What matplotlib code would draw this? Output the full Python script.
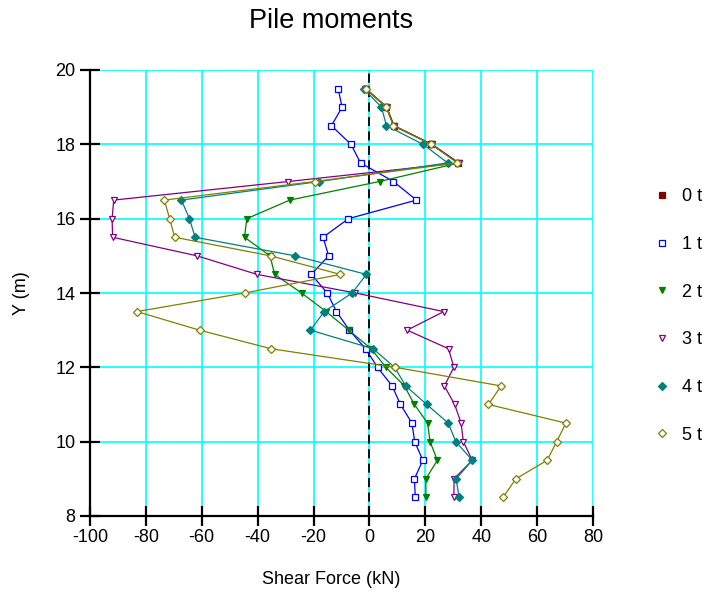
import matplotlib.pyplot as plt
from matplotlib.lines import Line2D

plt.rcParams["font.family"] = ["Liberation Sans", "DejaVu Sans"]

# depth along the pile (m)
depth = [19.5, 19.0, 18.5, 18.0, 17.5, 17.0, 16.5, 16.0, 15.5, 15.0, 14.5, 14.0,
         13.5, 13.0, 12.5, 12.0, 11.5, 11.0, 10.5, 10.0, 9.5, 9.0, 8.5]

# shear force (kN) per stage
shear_0t = [-1.4, 6.1, 8.7, 22.2, 31.7]
shear_1t = [-11.2, -9.8, -13.6, -6.6, -3.2, 8.6, 16.8, -7.5, -16.6, -14.6, -20.8, -15.1,
            -11.8, -7.2, -1.4, 2.9, 8.1, 11.1, 15.2, 16.2, 19.1, 16.1, 16.4]
shear_2t = [-1.3, 6.2, 8.8, 22.3, 32.0, 3.6, -28.5, -43.9, -44.7, -35.6, -33.9, -24.3,
            -15.5, -7.4, 0.6, 5.9, 12.5, 16.1, 20.8, 21.7, 24.3, 20.2, 20.2]
shear_3t = [-1.5, 6.1, 8.7, 22.3, 31.9, -29.0, -91.5, -92.1, -91.9, -61.7, -40.2, -5.0,
            26.6, 13.5, 28.3, 30.2, 26.8, 30.5, 32.8, 33.6, 36.8, 30.3, 30.2]
shear_4t = [-2.1, 4.3, 6.1, 19.2, 28.0, -17.9, -67.3, -64.4, -62.4, -26.6, -1.1, -6.2,
            -16.2, -21.1, 1.3, 9.0, 13.0, 20.5, 28.2, 30.9, 36.8, 31.0, 32.1]
shear_5t = [-1.4, 6.0, 8.6, 22.1, 31.5, -19.6, -73.4, -71.5, -69.7, -35.4, -10.4, -44.7,
            -83.2, -60.8, -35.2, 9.3, 47.1, 42.6, 70.3, 67.0, 63.6, 52.4, 47.8]

labels = ["0 t", "1 t", "2 t", "3 t", "4 t", "5 t"]
series = [shear_0t, shear_1t, shear_2t, shear_3t, shear_4t, shear_5t]
colors = ["#800000", "#0000FF", "#008000", "#800080", "#008080", "#808000"]
markers = ["s", "s", "v", "v", "D", "D"]
filled = [True, False, True, False, True, False]

x_ticks = [-100, -80, -60, -40, -20, 0, 20, 40, 60, 80]
y_ticks = [8, 10, 12, 14, 16, 18, 20]

fig = plt.figure(figsize=(7.1, 5.96), dpi=100)
ax = fig.add_axes([90 / 710, 1 - 516 / 596, 503 / 710, 446 / 596])

for x in x_ticks:
    ax.axvline(x, color="#00FFFF", linewidth=1.2, zorder=0)
for y in y_ticks:
    ax.axhline(y, color="#00FFFF", linewidth=1.2, zorder=0)

ax.axvline(0, color="black", linewidth=1.3, linestyle=(0, (5, 3)), zorder=1)

handles = []
for vals, lab, col, mk, fill in zip(series, labels, colors, markers, filled):
    ms = 4.2 if mk == "D" else 5
    face = col if fill else "white"
    ax.plot(vals, depth[:len(vals)], color=col, linewidth=0.9, marker=mk,
            markersize=ms, markerfacecolor=face, markeredgecolor=col,
            markeredgewidth=0.9, zorder=2)
    handles.append(Line2D([], [], linestyle="none", marker=mk, markersize=ms,
                          color=col, markerfacecolor=face, markeredgecolor=col,
                          markeredgewidth=0.9, label=lab))

ax.set_xlim(-100, 80)
ax.set_ylim(8, 20)
ax.set_xticks(x_ticks)
ax.set_yticks(y_ticks)
ax.set_xticklabels([str(v) for v in x_ticks])
ax.tick_params(direction="inout", length=14, width=1.6, labelsize=13, colors="black")
ax.tick_params(axis="x", pad=2)

ax.spines["top"].set_visible(False)
ax.spines["right"].set_visible(False)
ax.spines["left"].set_linewidth(1.6)
ax.spines["bottom"].set_linewidth(1.6)

fig.text(331 / 710, 1 - 21 / 596, "Pile moments", fontsize=19.5,
         ha="center", va="center")
fig.text(331 / 710, 1 - 580 / 596, "Shear Force (kN)", fontsize=13,
         ha="center", va="center")
fig.text(22 / 710, 1 - 293 / 596, "Y (m)", fontsize=13, rotation=90,
         ha="center", va="center")

fig.legend(handles=handles, loc="center left", bbox_to_anchor=(637 / 710, 1 - 316 / 596),
           frameon=False, fontsize=13, handlelength=1.0, handletextpad=0.6,
           labelspacing=1.7)

fig.savefig("out.png", dpi=100)
